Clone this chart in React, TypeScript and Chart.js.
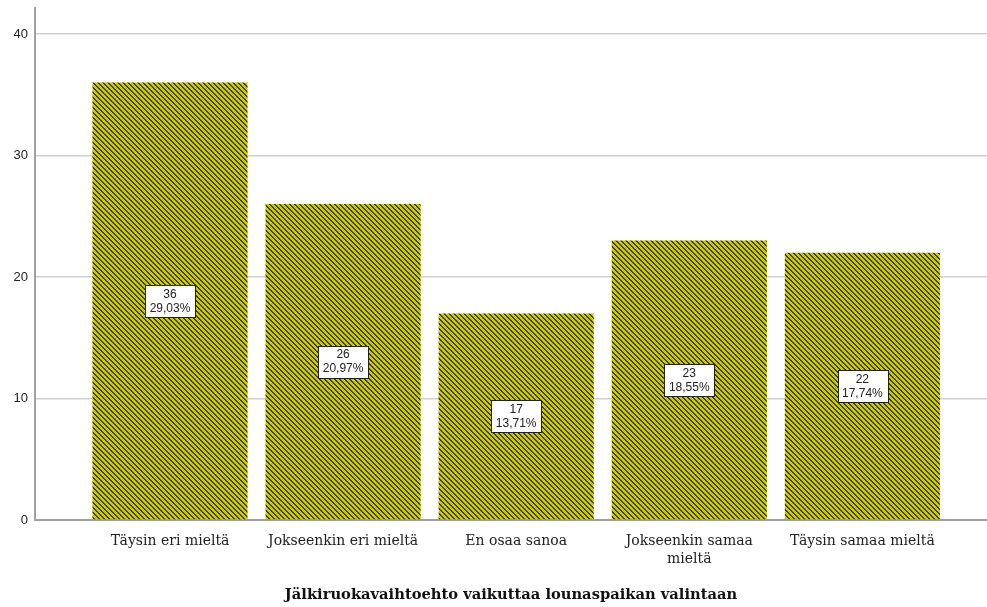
import React, { useEffect, useRef } from "react";
import { Chart, registerables } from "chart.js";

Chart.register(...registerables);

const categories: (string | string[])[] = [
  "Täysin eri mieltä",
  "Jokseenkin eri mieltä",
  "En osaa sanoa",
  ["Jokseenkin samaa", "mieltä"],
  "Täysin samaa mieltä",
];
const counts = [36, 26, 17, 23, 22];
const percents = ["29,03%", "20,97%", "13,71%", "18,55%", "17,74%"];
const xTitle = "Jälkiruokavaihtoehto vaikuttaa lounaspaikan valintaan";

function makePattern(): CanvasPattern | string {
  const n = 5;
  const c = document.createElement("canvas");
  c.width = n;
  c.height = n;
  const g = c.getContext("2d");
  if (!g) return "#c8c800";
  const cols = ["#3a3a00", "#4a4a00", "#cccc00", "#cccc00", "#cccc00"];
  for (let y = 0; y < n; y++) {
    for (let x = 0; x < n; x++) {
      const d = (((x - y) % n) + n) % n;
      g.fillStyle = cols[d];
      g.fillRect(x, y, 1, 1);
    }
  }
  const p = g.createPattern(c, "repeat");
  return p || "#c8c800";
}

const labelPlugin = {
  id: "boxLabels",
  afterDatasetsDraw(chart: any) {
    const ctx = chart.ctx;
    const meta = chart.getDatasetMeta(0);
    ctx.save();
    ctx.font = '12px "Liberation Sans", Arial, sans-serif';
    ctx.textAlign = "center";
    ctx.textBaseline = "middle";
    meta.data.forEach((bar: any, i: number) => {
      const l1 = String(counts[i]);
      const l2 = percents[i];
      const w = Math.max(ctx.measureText(l1).width, ctx.measureText(l2).width) + 9;
      const lh = 14;
      const h = lh * 2 + 4;
      const cx = bar.x;
      const cy = (bar.y + bar.base) / 2;
      const x0 = Math.round(cx - w / 2) + 0.5;
      const y0 = Math.round(cy - h / 2) + 0.5;
      ctx.fillStyle = "#ffffff";
      ctx.fillRect(x0, y0, Math.round(w), h);
      ctx.strokeStyle = "#222222";
      ctx.lineWidth = 1;
      ctx.strokeRect(x0, y0, Math.round(w), h);
      ctx.fillStyle = "#222222";
      ctx.fillText(l1, cx, cy - lh / 2 + 0.5);
      ctx.fillText(l2, cx, cy + lh / 2 + 0.5);
    });
    ctx.restore();
  },
};

export default function App() {
  const ref = useRef<HTMLCanvasElement | null>(null);

  useEffect(() => {
    document.body.style.margin = "0";
    const canvas = ref.current;
    if (!canvas) return;
    const pattern = makePattern();
    const chart = new Chart(canvas, {
      type: "bar",
      data: {
        datasets: [
          {
            data: counts.map((v, i) => ({ x: i, y: v })),
            backgroundColor: pattern as any,
            borderWidth: 0,
            barPercentage: 0.896,
            categoryPercentage: 1,
          },
        ],
      },
      options: {
        animation: false,
        responsive: false,
        devicePixelRatio: 1,
        layout: { padding: { top: 8, right: 0, left: 0, bottom: 0 } },
        plugins: {
          legend: { display: false },
          tooltip: { enabled: false },
        },
        scales: {
          x: {
            type: "linear",
            offset: false,
            min: -0.78,
            max: 4.72,
            afterBuildTicks: (scale: any) => {
              scale.ticks = categories.map((_, i) => ({ value: i }));
            },
            afterFit: (scale: any) => {
              scale.height = 87;
              scale.paddingLeft = 0;
              scale.paddingRight = 0;
            },
            grid: { display: false, drawTicks: false, offset: false },
            border: { display: true, color: "#a0a0a0", width: 2 },
            ticks: {
              autoSkip: false,
              maxRotation: 0,
              padding: 12,
              color: "#222222",
              font: { family: '"DejaVu Serif", serif', size: 14, lineHeight: 1.3 },
              callback: (v: any) => categories[v as number] as any,
            },
            title: {
              display: true,
              text: xTitle,
              color: "#111111",
              font: { family: '"DejaVu Serif", serif', size: 14.7, weight: "bold" },
              padding: { top: 0, bottom: 3 },
            },
          },
          y: {
            min: 0,
            max: 42.14,
            afterFit: (scale: any) => {
              scale.width = 35;
              scale.paddingTop = 0;
              scale.paddingBottom = 0;
            },
            ticks: {
              stepSize: 10,
              includeBounds: false,
              padding: 7,
              color: "#222222",
              font: { family: '"Liberation Sans", Arial, sans-serif', size: 13 },
            },
            grid: { color: "#cfcfcf", lineWidth: 1.5, drawTicks: false },
            border: { display: true, color: "#a0a0a0", width: 2 },
          },
        },
      } as any,
      plugins: [labelPlugin],
    });
    return () => chart.destroy();
  }, []);

  return <canvas ref={ref} width={987} height={607} style={{ display: "block" }} />;
}
